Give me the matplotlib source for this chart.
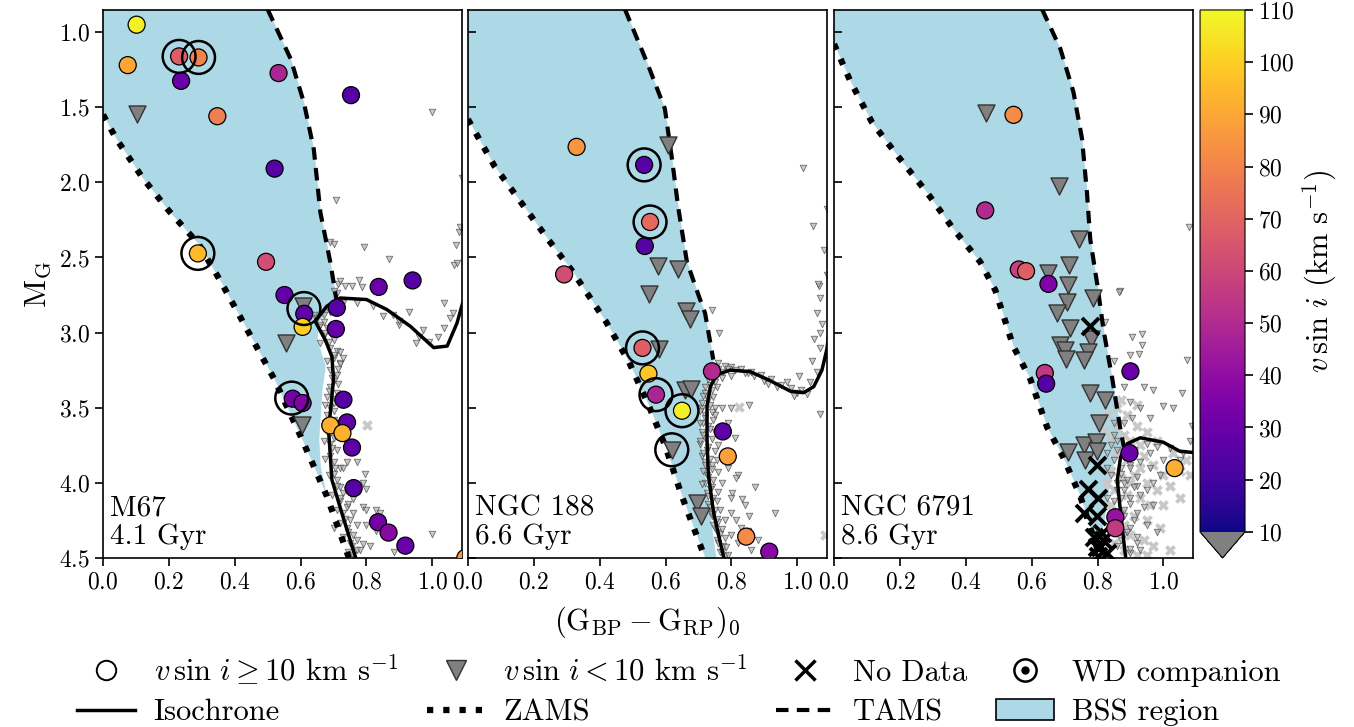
import numpy as np
import matplotlib
matplotlib.use("Agg")
import matplotlib.pyplot as plt
from matplotlib.lines import Line2D
from matplotlib.patches import Patch
from matplotlib.colors import Normalize

plt.rcParams["font.family"] = "serif"
plt.rcParams["font.serif"] = ["cmr10", "DejaVu Serif"]
plt.rcParams["mathtext.fontset"] = "cm"
plt.rcParams["axes.formatter.use_mathtext"] = True

# ---------------- data ----------------
names = ["M67\n4.1 Gyr", "NGC 188\n6.6 Gyr", "NGC 6791\n8.6 Gyr"]

# ZAMS / TAMS / isochrone / lower-right BSS edge (colour, M_G)
zams_x = [[0.0, 0.04, 0.12, 0.2, 0.29, 0.36, 0.45, 0.52, 0.6, 0.68, 0.75, 0.77],
          [0.0, 0.08, 0.16, 0.24, 0.32, 0.42, 0.49, 0.55, 0.6, 0.65, 0.72, 0.74],
          [0.0, 0.05, 0.115, 0.195, 0.283, 0.362, 0.444, 0.49, 0.544, 0.596, 0.647, 0.696, 0.748, 0.787, 0.81, 0.83]]
zams_y = [[1.55, 1.71, 1.97, 2.19, 2.41, 2.67, 3.03, 3.31, 3.69, 4.09, 4.52, 4.62],
          [1.58, 1.89, 2.13, 2.37, 2.6, 2.93, 3.2, 3.49, 3.76, 4.09, 4.5, 4.62],
          [1.08, 1.33, 1.6, 1.83, 2.07, 2.31, 2.53, 2.72, 3.09, 3.31, 3.63, 3.83, 4.09, 4.36, 4.5, 4.62]]
tams_x = [[0.50, 0.57, 0.61, 0.64, 0.66, 0.69, 0.71],
          [0.477, 0.547, 0.598, 0.62, 0.638, 0.665, 0.70, 0.72, 0.745],
          [0.632, 0.687, 0.727, 0.753, 0.768, 0.778, 0.80, 0.818, 0.845, 0.87, 0.88]]
tams_y = [[0.85, 1.18, 1.47, 1.78, 2.2, 2.53, 2.8],
          [0.85, 1.22, 1.51, 1.85, 2.16, 2.53, 2.75, 2.87, 3.18],
          [0.85, 1.11, 1.4, 1.71, 2.07, 2.38, 2.69, 2.98, 3.31, 3.65, 3.76]]
edge_x = [[0.655, 0.65, 0.675, 0.665, 0.66, 0.655, 0.66, 0.68],
          [0.72, 0.705, 0.71, 0.727, 0.75, 0.76],
          [0.85, 0.835, 0.82, 0.80]]
edge_y = [[2.92, 3.05, 3.22, 3.38, 3.54, 3.71, 3.89, 4.1],
          [3.38, 3.53, 3.76, 4.09, 4.45, 4.6],
          [3.85, 4.03, 4.25, 4.42]]
iso_x = [[0.78, 0.766, 0.725, 0.695, 0.685, 0.70, 0.695, 0.675, 0.644, 0.68, 0.72, 0.80, 0.862, 0.933, 1.004, 1.045, 1.075, 1.095],
         [0.79, 0.776, 0.746, 0.73, 0.726, 0.726, 0.736, 0.756, 0.796, 0.857, 0.918, 0.979, 1.019, 1.05, 1.075, 1.09, 1.10],
         [0.89, 0.885, 0.87, 0.86, 0.87, 0.89, 0.93, 1.0, 1.05, 1.1]]
iso_y = [[4.6, 4.49, 4.2, 3.98, 3.65, 3.31, 3.16, 3.05, 2.924, 2.824, 2.77, 2.78, 2.847, 2.958, 3.10, 3.09, 2.936, 2.78],
         [4.6, 4.49, 4.2, 3.94, 3.71, 3.49, 3.36, 3.28, 3.25, 3.26, 3.32, 3.39, 3.40, 3.36, 3.25, 3.11, 2.93],
         [4.6, 4.49, 4.2, 3.98, 3.83, 3.74, 3.7, 3.73, 3.79, 3.8]]

# BSS with v sin i >= 10 (colour, M_G, v sin i)
fast_x = [[0.102, 0.075, 0.231, 0.29, 0.237, 0.533, 0.753, 0.347, 0.521, 0.288, 0.495, 0.837, 0.94, 0.551,
           0.611, 0.606, 0.71, 0.707, 0.576, 0.606, 0.73, 0.741, 0.69, 0.727, 0.756, 0.761, 0.835, 0.867, 0.918, 1.1],
          [0.33, 0.535, 0.553, 0.537, 0.292, 0.53, 0.548, 0.741, 0.571, 0.65, 0.774, 0.789, 0.845, 0.915],
          [0.545, 0.459, 0.561, 0.583, 0.651, 0.64, 0.644, 0.9, 0.897, 1.034, 0.854, 0.854]]
fast_y = [[0.951, 1.22, 1.162, 1.169, 1.325, 1.273, 1.42, 1.56, 1.909, 2.473, 2.529, 2.696, 2.653, 2.75,
           2.875, 2.962, 2.835, 2.976, 3.44, 3.469, 3.447, 3.598, 3.618, 3.669, 3.765, 4.035, 4.262, 4.331, 4.418, 4.5],
          [1.764, 1.884, 2.264, 2.424, 2.613, 3.102, 3.273, 3.258, 3.413, 3.52, 3.658, 3.824, 4.358, 4.458],
          [1.551, 2.187, 2.58, 2.591, 2.676, 3.269, 3.34, 3.258, 3.802, 3.902, 4.229, 4.302]]
fast_v = [[108, 90, 68, 80, 30, 48, 25, 78, 25, 95, 62, 30, 25, 28,
           27, 100, 25, 28, 33, 36, 25, 27, 92, 93, 27, 25, 32, 38, 30, 85],
          [85, 25, 72, 25, 62, 68, 98, 50, 48, 108, 27, 88, 82, 38],
          [82, 50, 58, 68, 35, 55, 25, 30, 30, 92, 42, 56]]

# BSS with v sin i < 10
slow_x = [[0.104, 0.555, 0.604, 0.608],
          [0.606, 0.577, 0.639, 0.55, 0.663, 0.675, 0.58, 0.66, 0.677, 0.619, 0.697, 0.708],
          [0.462, 0.684, 0.744, 0.714, 0.65, 0.709, 0.785, 0.707, 0.677, 0.717, 0.78, 0.685, 0.7, 0.704,
           0.771, 0.76, 0.778, 0.822, 0.806, 0.71, 0.758, 0.796, 0.763, 0.799]]
slow_y = [[1.547, 3.069, 3.618, 2.82],
          [1.751, 2.558, 2.575, 2.745, 2.858, 2.909, 3.106, 3.38, 3.373, 3.78, 4.131, 4.22],
          [1.536, 2.024, 2.38, 2.551, 2.602, 2.685, 2.77, 2.798, 2.869, 2.969, 3.042, 3.08, 3.118, 3.173,
           3.131, 3.18, 3.402, 3.447, 3.602, 3.798, 3.747, 3.731, 3.847, 3.791]]

# BSS without rotation data (NGC 6791 only)
nodata_x = [[], [], [0.777, 0.799, 0.77, 0.803, 0.758, 0.798, 0.788, 0.818, 0.808, 0.829, 0.798, 0.814, 0.803]]
nodata_y = [[], [], [2.958, 3.88, 4.042, 4.102, 4.202, 4.224, 4.358, 4.38, 4.424, 4.469, 4.424, 4.336, 4.49]]

# WD companions
wd_x = [[0.231, 0.29, 0.288, 0.61, 0.573],
        [0.535, 0.553, 0.53, 0.571, 0.65, 0.619],
        []]
wd_y = [[1.162, 1.169, 2.473, 2.84, 3.436],
        [1.884, 2.264, 3.102, 3.413, 3.52, 3.78],
        []]

# other cluster members, slow rotators (small triangles)
bg_x = [[1.0, 0.707, 0.69, 0.70, 0.791, 0.867, 1.09, 1.08, 1.073, 1.065, 1.075, 1.085,
         0.776, 0.735, 0.756, 0.786, 0.715, 0.71, 0.70, 0.72,
         0.85, 0.93, 0.973, 1.034, 1.054, 1.034, 1.018, 0.95, 1.064, 0.90,
         0.64, 0.65, 0.67, 0.66, 0.68, 0.69, 0.67, 0.70, 0.69, 0.71, 0.70, 0.72, 0.69, 0.71, 0.70, 0.69,
         0.71, 0.68, 0.70, 0.69, 0.68, 0.70, 0.69, 0.68, 0.70, 0.69, 0.71, 0.69, 0.70, 0.72, 0.70, 0.71,
         0.72, 0.73, 0.72, 0.74, 0.73, 0.75, 0.74, 0.76, 0.75, 0.77, 0.76,
         0.72, 0.72, 0.73, 0.74, 0.77, 0.795, 0.79, 0.80, 0.76, 0.745, 0.79, 0.80, 0.83, 0.84, 0.77, 0.80,
         0.83, 0.79, 0.81, 0.885, 1.0, 0.70,
         0.655, 0.675, 0.685, 0.66, 0.70, 0.68, 0.715, 0.695, 0.715, 0.685, 0.705, 0.675, 0.70, 0.675,
         0.695, 0.67, 0.695, 0.675, 0.705, 0.685, 0.71, 0.695, 0.72, 0.71, 0.735, 0.72, 0.745, 0.73,
         0.755, 0.745, 0.73, 0.74, 0.76, 0.77, 0.78,
         0.67, 0.70, 0.73, 0.77, 0.82, 0.88, 0.90, 0.96, 0.99, 0.69],
        [1.017, 1.047, 1.09, 1.065, 1.09, 1.08,
         0.741, 0.763, 0.75, 0.76, 0.78, 0.80, 0.83, 0.86, 0.89, 0.92, 0.95, 0.98, 1.01, 1.04, 1.06, 1.07,
         1.064, 1.07, 1.06, 1.075, 1.07, 1.05, 1.045, 1.004, 0.852, 1.07, 0.85, 0.9, 0.97, 1.0,
         0.74, 0.735, 0.72, 0.73, 0.71, 0.72, 0.715, 0.73, 0.71, 0.72, 0.705, 0.725, 0.71, 0.72, 0.74,
         0.715, 0.73, 0.72, 0.74, 0.725, 0.745, 0.73, 0.75, 0.74, 0.76, 0.75, 0.765, 0.755, 0.775, 0.765,
         0.78, 0.76, 0.75, 0.77,
         0.933, 0.872, 0.852, 0.832, 0.801, 0.80, 0.83, 0.86, 0.79, 0.82, 0.80, 0.77,
         0.73, 0.75, 0.72, 0.74, 0.755, 0.715, 0.745, 0.71, 0.735, 0.75, 0.705, 0.74, 0.72, 0.745, 0.705,
         0.735, 0.75, 0.715, 0.74, 0.705, 0.73, 0.75, 0.715, 0.735, 0.755, 0.72, 0.74, 0.76, 0.725, 0.745,
         0.71, 0.735, 0.76, 0.73, 0.755, 0.735, 0.765, 0.74, 0.755, 0.78, 0.745, 0.77, 0.755, 0.78, 0.76,
         0.785, 0.77, 0.79,
         0.76, 0.775, 0.79, 0.81, 0.84, 0.87, 0.91, 0.94, 0.99, 1.03, 0.77, 0.80,
         0.80, 0.79, 0.81, 0.78, 0.815, 0.8, 0.84, 0.815, 0.85, 0.82, 0.88],
        [0.824, 0.869, 0.905, 0.935, 0.935, 0.925, 0.9, 0.849, 1.072, 0.879, 0.94, 0.97, 1.0, 1.056, 1.03,
         1.087, 0.9, 0.93, 0.905, 0.96, 0.85, 0.879, 1.077, 0.866,
         0.84, 0.86, 0.88, 0.91, 0.95, 0.98, 1.02, 1.06, 0.85, 0.87, 0.9, 0.93, 0.96, 0.84, 0.88, 0.92,
         0.86, 0.9, 0.95, 0.85, 0.88, 0.92, 0.87, 0.9, 0.88, 0.92, 0.86, 0.9, 0.83, 1.0, 1.05, 1.08,
         0.97, 0.84,
         0.86, 0.88, 0.9, 0.87, 0.89, 0.92, 0.86, 0.88, 0.91, 0.93, 0.87, 0.9, 0.94, 0.88, 0.91, 0.95,
         0.89, 0.92, 0.87, 0.9, 0.85, 0.83, 0.96, 0.99, 1.02, 0.97, 0.85, 0.83, 0.98, 0.93]]
bg_y = [[1.53, 2.12, 2.40, 2.41, 2.43, 2.51, 1.97, 2.33, 2.42, 2.55, 2.535, 2.30,
         2.65, 2.69, 2.69, 2.70, 2.68, 2.735, 2.72, 2.66,
         2.89, 2.86, 2.98, 2.80, 2.90, 2.97, 3.03, 3.07, 2.87, 2.95,
         2.88, 2.9, 2.93, 2.95, 2.97, 3.0, 3.02, 3.05, 3.1, 3.12, 3.17, 3.2, 3.25, 3.28, 3.32, 3.36,
         3.4, 3.43, 3.47, 3.5, 3.55, 3.58, 3.62, 3.66, 3.7, 3.74, 3.78, 3.82, 3.86, 3.9, 3.94, 3.98,
         4.03, 4.07, 4.12, 4.16, 4.2, 4.25, 4.3, 4.35, 4.4, 4.45, 4.48,
         3.13, 3.21, 3.17, 3.86, 3.86, 3.94, 4.0, 4.04, 4.11, 4.14, 4.16, 4.18, 4.18, 4.2, 4.28, 4.28,
         4.32, 4.41, 4.42, 4.46, 4.34, 4.3,
         2.96, 3.0, 3.06, 3.07, 3.15, 3.19, 3.24, 3.3, 3.34, 3.39, 3.44, 3.48, 3.52, 3.6,
         3.64, 3.72, 3.77, 3.84, 3.9, 3.95, 4.02, 4.08, 4.1, 4.18, 4.24, 4.27, 4.33, 4.36,
         4.42, 4.46, 3.9, 4.05, 4.2, 4.38, 4.45,
         2.88, 2.84, 2.8, 2.8, 2.82, 2.88, 2.92, 3.03, 3.06, 2.86],
        [1.907, 2.29, 2.18, 2.69, 2.62, 2.45,
         2.85, 3.0, 3.22, 3.2, 3.22, 3.23, 3.24, 3.26, 3.28, 3.31, 3.35, 3.37, 3.38, 3.33, 3.26, 3.1,
         2.68, 2.77, 2.87, 2.94, 3.0, 3.04, 3.19, 3.29, 3.48, 3.54, 3.27, 3.32, 3.33, 3.4,
         3.3, 3.35, 3.4, 3.45, 3.5, 3.55, 3.6, 3.62, 3.66, 3.7, 3.74, 3.78, 3.82, 3.86, 3.88,
         3.92, 3.96, 4.0, 4.03, 4.07, 4.1, 4.14, 4.18, 4.22, 4.26, 4.3, 4.34, 4.38, 4.42, 4.46,
         4.49, 3.75, 3.55, 4.0,
         4.2, 4.03, 4.22, 4.11, 4.07, 4.35, 4.3, 4.45, 3.9, 3.95, 4.2, 3.5,
         3.31, 3.33, 3.36, 3.38, 3.36, 3.42, 3.43, 3.47, 3.48, 3.5, 3.52, 3.53, 3.57, 3.58, 3.6,
         3.64, 3.66, 3.68, 3.71, 3.72, 3.76, 3.79, 3.8, 3.84, 3.85, 3.88, 3.91, 3.93, 3.95, 3.98,
         4.01, 4.04, 4.06, 4.09, 4.12, 4.16, 4.18, 4.21, 4.24, 4.25, 4.28, 4.31, 4.33, 4.37, 4.4,
         4.43, 4.46, 4.48,
         3.24, 3.26, 3.24, 3.25, 3.27, 3.29, 3.34, 3.36, 3.42, 3.41, 3.3, 3.29,
         3.5, 3.6, 3.7, 3.85, 3.97, 4.1, 4.15, 4.25, 4.32, 4.4, 4.38],
        [2.93, 2.72, 3.03, 3.01, 3.08, 3.14, 3.15, 3.19, 3.18, 3.36, 3.36, 3.38, 3.49, 3.40, 3.5,
         3.62, 3.46, 3.5, 3.57, 3.57, 3.68, 3.6, 2.30, 2.73,
         3.75, 3.72, 3.8, 3.78, 3.74, 3.76, 3.77, 3.8, 3.85, 3.9, 3.88, 3.86, 3.9, 3.95, 4.0, 4.02,
         4.05, 4.1, 4.05, 4.12, 4.18, 4.2, 4.25, 4.3, 4.35, 4.4, 4.42, 4.47, 3.9, 3.85, 3.85, 3.72,
         4.15, 4.3,
         3.78, 3.83, 3.9, 3.94, 3.98, 3.96, 4.0, 4.05, 4.03, 4.08, 4.1, 4.14, 4.16, 4.22, 4.25, 4.28,
         4.33, 4.36, 4.38, 4.44, 3.6, 3.8, 3.8, 3.95, 3.9, 4.0, 4.2, 4.1, 4.33, 4.45]]

# other members without data (light grey crosses)
gx_x = [[0.801],
        [0.824, 1.085],
        [0.83, 0.86, 0.89, 0.92, 0.86, 0.95, 0.88, 0.84, 0.9, 0.93, 0.98, 1.03, 1.07, 0.86, 0.89, 0.94,
         0.97, 1.0, 1.05, 0.84, 0.87, 0.91, 0.95, 0.98, 1.02, 0.85, 0.89, 0.93, 0.96, 1.0, 0.84, 0.87,
         0.91, 0.95, 0.99, 0.86, 0.9, 0.94, 0.97, 0.88, 0.92, 0.95, 0.85, 1.02, 1.05, 1.08, 0.82, 0.87,
         0.92, 0.9, 0.93, 0.88, 0.83]]
gx_y = [[3.618],
        [3.495, 4.35],
        [3.55, 3.5, 3.55, 3.62, 3.62, 3.66, 3.68, 3.7, 3.72, 3.75, 3.72, 3.8, 3.85, 3.8, 3.85, 3.82,
         3.88, 3.95, 3.92, 3.92, 3.97, 3.95, 4.0, 4.05, 4.02, 4.05, 4.08, 4.1, 4.15, 4.15, 4.15, 4.2,
         4.22, 4.25, 4.3, 4.3, 4.35, 4.38, 4.42, 4.45, 4.48, 4.48, 4.4, 4.45, 4.1, 3.95, 3.65, 3.45,
         3.48, 4.0, 3.9, 4.28, 4.0]]

xticks = [0.0, 0.2, 0.4, 0.6, 0.8, 1.0]
yticks = [1.0, 1.5, 2.0, 2.5, 3.0, 3.5, 4.0, 4.5]
cbar_ticks = [10, 20, 30, 40, 50, 60, 70, 80, 90, 100, 110]

# ---------------- plot ----------------
fig = plt.figure(figsize=(13.54, 7.27), dpi=100)
lefts = [0.0761, 0.3456, 0.616]
bss_color = "#ADD8E6"
norm = Normalize(vmin=10, vmax=110)
cmap = plt.get_cmap("plasma").copy()
cmap.set_under("gray")

axes = []
for i in range(3):
    ax = fig.add_axes([lefts[i], 0.2325, 0.2651, 0.7538])
    axes.append(ax)

    # BSS region between ZAMS and TAMS / lower edge
    ygrid = np.linspace(0.8, 4.6, 800)
    left = np.interp(ygrid, zams_y[i], zams_x[i], left=-0.1)
    right_y = tams_y[i] + edge_y[i]
    right_x = tams_x[i] + edge_x[i]
    right = np.interp(ygrid, right_y, right_x, left=tams_x[i][0], right=-1.0)
    ax.fill_betweenx(ygrid, left, right, where=right > left, color=bss_color, lw=0, zorder=0)

    ax.scatter(gx_x[i], gx_y[i], marker="X", s=60, color="#c8c8c8", lw=0, zorder=1)
    ax.scatter(bg_x[i], bg_y[i], marker="v", s=22, facecolor="#b4b4b4", edgecolor="#3c3c3c",
               lw=0.6, alpha=0.7, zorder=2)

    ax.plot(iso_x[i], iso_y[i], color="black", lw=2.5, zorder=3)
    ax.plot(zams_x[i], zams_y[i], color="black", lw=4.5, ls=(0, (1, 1.6)), zorder=3)
    ax.plot(tams_x[i], tams_y[i], color="black", lw=3, ls=(0, (3, 2)), zorder=3)

    ax.scatter(slow_x[i], slow_y[i], marker="v", s=150, facecolor="gray", edgecolor="#333333",
               lw=1.0, zorder=4)
    ax.scatter(nodata_x[i], nodata_y[i], marker="x", s=150, color="black", lw=2.8, zorder=4)
    sc = ax.scatter(fast_x[i], fast_y[i], c=fast_v[i], cmap=cmap, norm=norm, marker="o", s=150,
                    edgecolor="black", lw=0.9, zorder=5)
    ax.scatter(wd_x[i], wd_y[i], marker="o", s=560, facecolor="none", edgecolor="black",
               lw=1.8, zorder=6)

    ax.text(0.02, 0.015, names[i], transform=ax.transAxes, ha="left", va="bottom",
            fontsize=21, linespacing=1.1)

    ax.set_xlim(0, 1.09)
    ax.set_ylim(4.5, 0.853)
    ax.set_xticks(xticks)
    ax.set_yticks(yticks)
    ax.tick_params(labelsize=17, length=6, width=1.2)
    if i > 0:
        ax.tick_params(axis="y", direction="in", labelleft=False)
    for sp in ax.spines.values():
        sp.set_linewidth(1.2)

axes[0].set_ylabel(r"$\rm M_G$", fontsize=22)
axes[1].set_xlabel(r"$\rm (G_{BP} - G_{RP})_0$", fontsize=22, labelpad=8)

cax = fig.add_axes([0.8863, 0.2325, 0.0332, 0.7538])
cb = fig.colorbar(sc, cax=cax, extend="min", ticks=cbar_ticks)
cb.ax.tick_params(labelsize=17, length=6, width=1.2)
cb.set_label(r"$v\,\sin\,i$ (km s$^{-1}$)", fontsize=22)

# legend
h_fast = Line2D([], [], marker="o", ls="none", ms=14, mfc="white", mec="black", mew=1.4)
h_slow = Line2D([], [], marker="v", ls="none", ms=14, mfc="gray", mec="#333333", mew=1.0)
h_nod = Line2D([], [], marker="x", ls="none", ms=14, color="black", mew=2.5)
h_wd = (Line2D([], [], marker="o", ls="none", ms=16, mfc="none", mec="black", mew=1.8),
        Line2D([], [], marker="o", ls="none", ms=5, color="black"))
h_iso = Line2D([], [], color="black", lw=2.5)
h_zams = Line2D([], [], color="black", lw=4.5, ls=(0, (1, 1.6)))
h_tams = Line2D([], [], color="black", lw=3, ls=(0, (3, 2)))
h_bss = Patch(facecolor=bss_color, edgecolor="black", lw=1.2)

handles = [h_fast, h_iso, h_slow, h_zams, h_nod, h_tams, h_wd, h_bss]
labels = [r"$v\,\sin\,i \geq 10$ km s$^{-1}$", "Isochrone",
          r"$v\,\sin\,i < 10$ km s$^{-1}$", "ZAMS",
          "No Data", "TAMS",
          "WD companion", "BSS region"]
fig.legend(handles, labels, loc="upper left", bbox_to_anchor=(0.048, 0.12), borderaxespad=0,
           ncol=4, frameon=False, fontsize=22, handlelength=1.9, columnspacing=0.95,
           handletextpad=0.6, labelspacing=0.4)

fig.savefig("out.png", dpi=100)
